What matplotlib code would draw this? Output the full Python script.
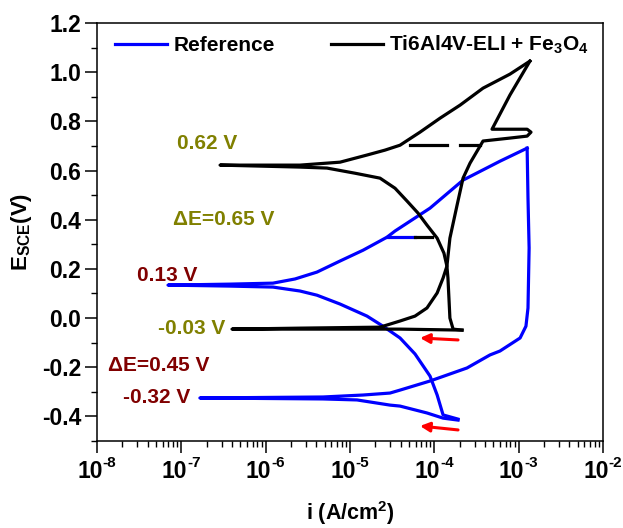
import numpy as np
import matplotlib
matplotlib.use('Agg')
import matplotlib.pyplot as plt
from matplotlib.ticker import LogLocator, MultipleLocator, FormatStrFormatter, NullFormatter

plt.rcParams['font.family'] = 'Liberation Sans'
plt.rcParams['font.weight'] = 'bold'
plt.rcParams['axes.labelweight'] = 'bold'
plt.rcParams['axes.unicode_minus'] = False
plt.rcParams['mathtext.fontset'] = 'custom'
plt.rcParams['mathtext.rm'] = 'Liberation Sans:bold'
plt.rcParams['mathtext.it'] = 'Liberation Sans:bold:italic'
plt.rcParams['mathtext.bf'] = 'Liberation Sans:bold'

# Reference (blue), forward scan
ref_fwd_i = [1.91e-4, 1.27e-4, 8.18e-5, 3.92e-5, 2.98e-5, 1.21e-5, 4.79e-6, 1.66e-7, 4.79e-6,
             1.43e-5, 2.98e-5, 3.92e-5, 8.89e-5, 2.44e-4, 4.57e-4, 6.01e-4, 1.04e-3, 1.22e-3,
             1.29e-3, 1.33e-3, 1.29e-3, 1.26e-3]
ref_fwd_E = [-0.415, -0.407, -0.386, -0.358, -0.354, -0.333, -0.329, -0.325, -0.321,
             -0.313, -0.305, -0.293, -0.256, -0.203, -0.150, -0.134, -0.081, -0.033,
             0.041, 0.285, 0.488, 0.691]

# Reference (blue), reverse scan
ref_rev_i = [1.26e-3, 6.01e-4, 2.19e-4, 8.89e-5, 3.42e-5, 2.75e-5, 1.43e-5, 7.62e-6, 4.06e-6,
             2.23e-6, 1.22e-6, 3.78e-7, 6.95e-8, 3.78e-7, 1.22e-6, 2.55e-6, 4.06e-6, 7.62e-6,
             1.59e-5, 2.46e-5, 3.92e-5, 5.90e-5, 8.89e-5, 1.08e-4, 1.27e-4, 1.91e-4]
ref_rev_E = [0.691, 0.638, 0.561, 0.447, 0.354, 0.329, 0.276, 0.232, 0.187,
             0.159, 0.142, 0.138, 0.134, 0.130, 0.126, 0.110, 0.093, 0.057,
             0.008, -0.033, -0.081, -0.146, -0.236, -0.313, -0.394, -0.411]

# Ti6Al4V-ELI + Fe3O4 (black), forward scan
ti_fwd_i = [2.13e-4, 3.92e-5, 2.55e-6, 3.99e-7, 2.55e-6, 2.27e-5, 3.92e-5, 5.90e-5, 8.18e-5,
            1.08e-4, 1.27e-4, 1.41e-4, 1.53e-4, 1.86e-4, 2.19e-4, 2.65e-4, 3.78e-4, 7.88e-4,
            1.26e-3, 1.40e-3, 1.26e-3, 4.83e-4, 7.88e-4, 1.36e-3]
ti_fwd_E = [-0.049, -0.045, -0.045, -0.045, -0.041, -0.037, -0.012, 0.008, 0.041,
            0.102, 0.163, 0.211, 0.325, 0.459, 0.569, 0.630, 0.720, 0.732,
            0.740, 0.756, 0.768, 0.768, 0.907, 1.045]

# Ti6Al4V-ELI + Fe3O4 (black), reverse scan
ti_rev_i = [1.36e-3, 7.88e-4, 3.78e-4, 2.02e-4, 1.17e-4, 6.76e-5, 3.92e-5, 2.60e-5, 1.59e-5,
            7.62e-6, 2.55e-6, 2.88e-7, 2.55e-6, 5.33e-6, 1.15e-5, 2.27e-5, 3.42e-5, 4.74e-5,
            6.40e-5, 8.18e-5, 1.08e-4, 1.30e-4, 1.41e-4, 1.45e-4, 1.49e-4, 1.53e-4, 1.67e-4, 2.13e-4]
ti_rev_E = [1.045, 0.992, 0.935, 0.866, 0.813, 0.756, 0.703, 0.683, 0.663,
            0.634, 0.622, 0.622, 0.614, 0.610, 0.589, 0.569, 0.528, 0.476,
            0.427, 0.378, 0.325, 0.264, 0.211, 0.163, 0.081, 0.0, -0.045, -0.049]

# short jump segments in the recordings
ti_jump1_i, ti_jump1_E = [5.15e-5, 1.41e-4], [0.703, 0.703]
ti_jump2_i, ti_jump2_E = [2.02e-4, 3.48e-4], [0.703, 0.703]
ti_jump3_i, ti_jump3_E = [5.90e-5, 9.38e-5], [0.329, 0.329]
ref_jump_i, ref_jump_E = [2.75e-5, 5.90e-5], [0.329, 0.329]

# scan direction arrows (tail, head)
arrow_ref = [(1.91e-4, -0.455), (6.76e-5, -0.439)]
arrow_ti = [(1.91e-4, -0.089), (6.76e-5, -0.081)]

# annotations: text, x, y, colour
olive = '#808000'
maroon = '#800000'
labels = [('0.62 V', 8.9e-8, 0.711, olive),
          ('\u0394E=0.65 V', 7.96e-8, 0.402, olive),
          ('0.13 V', 2.98e-8, 0.175, maroon),
          ('-0.03 V', 5.28e-8, -0.041, olive),
          ('\u0394E=0.45 V', 1.35e-8, -0.191, maroon),
          ('-0.32 V', 2.03e-8, -0.325, maroon)]

yticks = [-0.4, -0.2, 0.0, 0.2, 0.4, 0.6, 0.8, 1.0, 1.2]
xdecades = [-8, -7, -6, -5, -4, -3, -2]

fig = plt.figure(figsize=(6.23, 5.28), dpi=100)
ax = fig.add_axes([97 / 623, 1 - 441 / 528, 506 / 623, 418 / 528])

lw = 2.3
ax.plot(ref_fwd_i, ref_fwd_E, color='blue', lw=lw, label='Reference')
ax.plot(ref_rev_i, ref_rev_E, color='blue', lw=lw)
ax.plot(ref_jump_i, ref_jump_E, color='blue', lw=lw)
ax.plot(ti_fwd_i, ti_fwd_E, color='black', lw=lw, label='Ti6Al4V-ELI + Fe$_3$O$_4$')
ax.plot(ti_rev_i, ti_rev_E, color='black', lw=lw)
for xi, ye in [(ti_jump1_i, ti_jump1_E), (ti_jump2_i, ti_jump2_E), (ti_jump3_i, ti_jump3_E)]:
    ax.plot(xi, ye, color='black', lw=lw)

for tail, head in [arrow_ref, arrow_ti]:
    ax.annotate('', xy=head, xytext=tail,
                arrowprops=dict(arrowstyle='-|>', color='red', lw=2.2, mutation_scale=14,
                                shrinkA=0, shrinkB=0))

for txt, x, y, c in labels:
    ax.text(x, y, txt, color=c, fontsize=15, fontweight='bold', ha='left', va='center')

ax.set_xscale('log')
ax.set_xlim(1e-8, 1e-2)
ax.set_ylim(-0.5, 1.2)
ax.set_yticks(yticks)
ax.yaxis.set_major_formatter(FormatStrFormatter('%.1f'))
ax.yaxis.set_minor_locator(MultipleLocator(0.1))
ax.set_xticks([10.0 ** k for k in xdecades])
ax.xaxis.set_minor_locator(LogLocator(base=10, subs=np.arange(2, 10), numticks=10))
ax.xaxis.set_minor_formatter(NullFormatter())
ax.set_xticklabels([])

# decade labels written as "10" plus a small raised exponent with a plain hyphen
for k in xdecades:
    ax.annotate('10', xy=(10.0 ** k, 0), xycoords=('data', 'axes fraction'),
                xytext=(4, -13.5), textcoords='offset points', ha='right', va='top',
                fontsize=16.5, fontweight='bold', annotation_clip=False)
    ax.annotate(str(k), xy=(10.0 ** k, 0), xycoords=('data', 'axes fraction'),
                xytext=(4, -11), textcoords='offset points', ha='left', va='top',
                fontsize=11, fontweight='bold', annotation_clip=False)

ax.tick_params(which='both', direction='out', top=False, right=False)
ax.tick_params(which='major', length=8.5, width=1.1, labelsize=16.5, pad=3)
ax.tick_params(which='minor', length=4, width=1.0)
for s in ax.spines.values():
    s.set_linewidth(1.1)

ax.set_xlabel('i (A/cm$^2$)', fontsize=15.5, fontweight='bold')
ax.set_ylabel('E$_{\\mathrm{SCE}}$(V)', fontsize=16, fontweight='bold')
ax.xaxis.set_label_coords(0.5, -0.138)
ax.yaxis.set_label_coords(-0.124, 0.5)

ax.legend(loc='center left', bbox_to_anchor=(0.0356, 0.947), ncol=2, frameon=False,
          borderpad=0, borderaxespad=0, handlelength=2.5, handletextpad=0.3,
          columnspacing=2.7, prop={'size': 15, 'weight': 'bold'})

plt.savefig('out.png', dpi=100)
